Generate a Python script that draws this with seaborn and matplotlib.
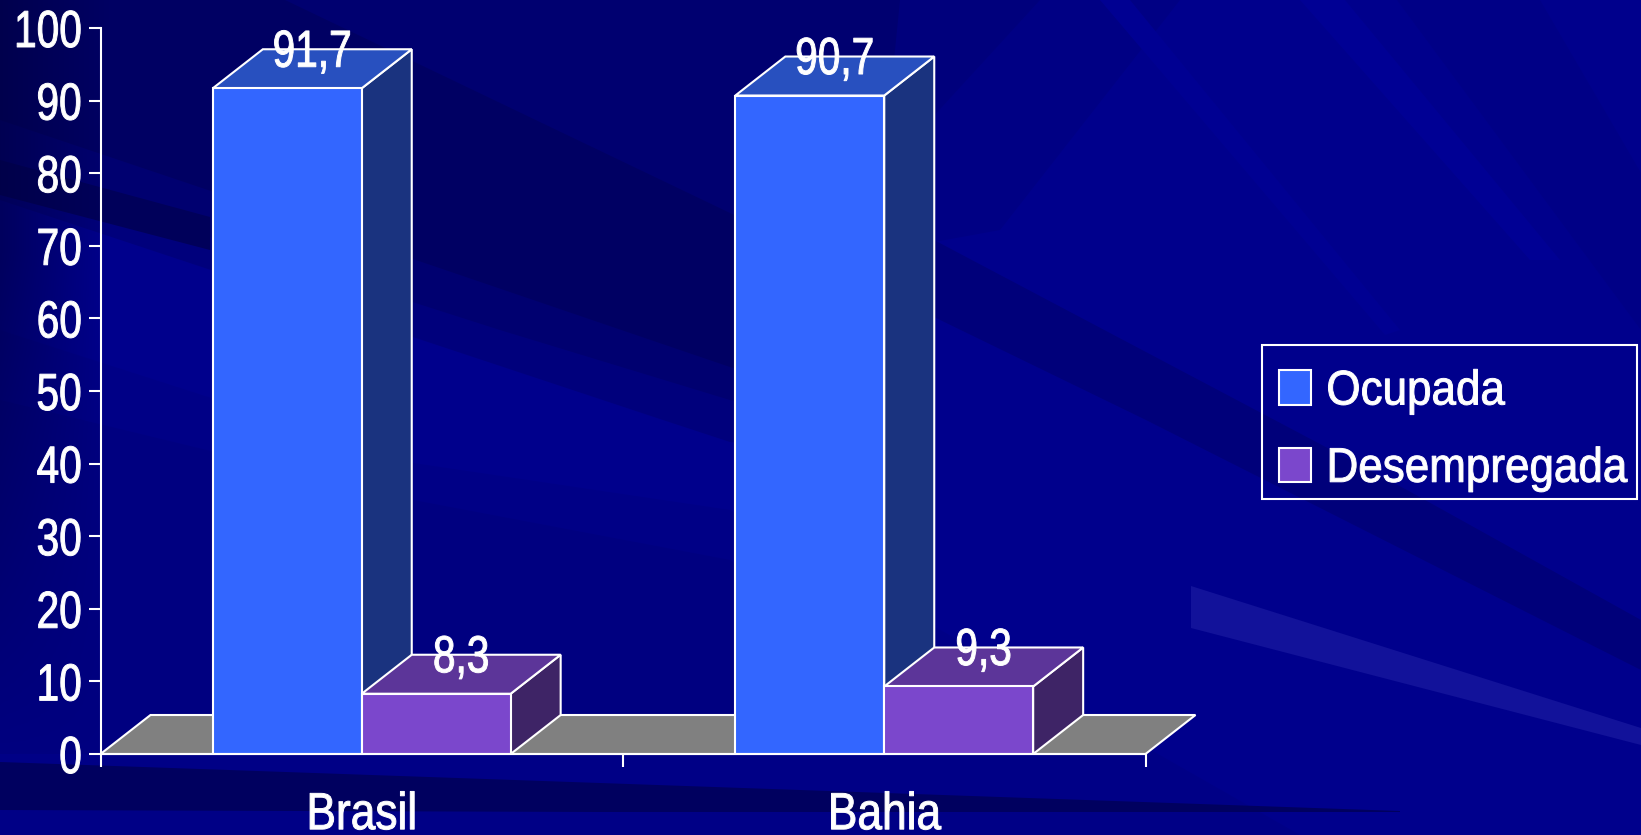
import matplotlib
matplotlib.use("Agg")
import matplotlib.pyplot as plt
from matplotlib.patches import Polygon, Rectangle
from matplotlib.patheffects import AbstractPathEffect
from matplotlib.transforms import Affine2D
import numpy as np
import pandas as pd
import seaborn as sns

categories = ["Brasil", "Bahia"]
series_names = ["Ocupada", "Desempregada"]
ocupada = [91.7, 90.7]
desempregada = [8.3, 9.3]
value_labels = {"Ocupada": ["91,7", "90,7"], "Desempregada": ["8,3", "9,3"]}
y_ticks = list(range(0, 101, 10))

FRONT = {"Ocupada": "#3366FF", "Desempregada": "#7B47CC"}
TOP = {"Ocupada": "#2850BF", "Desempregada": "#5C3599"}
SIDE = {"Ocupada": "#1A337F", "Desempregada": "#3E2466"}
WHITE = "#FFFFFF"
LW = 1.5

sns.set_style("white")
plt.rcParams["font.family"] = ["Liberation Sans", "DejaVu Sans"]


class Squeeze(AbstractPathEffect):
    """Narrow the glyphs horizontally (the reference uses a narrow face)."""

    def __init__(self, sx, anchor="center", shift=0, yshift=0, stroke=0.7):
        super().__init__()
        self.sx, self.anchor, self.shift, self.yshift, self.stroke = sx, anchor, shift, yshift, stroke

    def draw_path(self, renderer, gc, tpath, affine, rgbFace=None):
        e = tpath.get_extents()
        a = {"left": e.x0, "right": e.x1, "center": (e.x0 + e.x1) / 2}[self.anchor]
        t = (Affine2D().translate(-a, 0).scale(self.sx, 1).translate(a, 0) + affine
             + Affine2D().translate(self.shift, self.yshift))
        gc.set_linewidth(self.stroke)
        renderer.draw_path(gc, tpath, t, rgbFace)


W, H = 1641, 835
fig = plt.figure(figsize=(W / 100, H / 100), dpi=100)

# backdrop: dark blue with diagonal rays
bg = fig.add_axes([0, 0, 1, 1], zorder=-5)
bg.axis("off")
bg.add_patch(Rectangle((0, 0), W, H, fc="#00008C", ec="none", zorder=0))
bands = [
    ("#000086", [(0, 330), (413, 463), (730, 510), (1300, 835), (0, 835)]),
    ("#000080", [(0, 400), (413, 500), (730, 560), (1000, 754), (0, 754)]),
    ("#000084", [(800, 0), (1180, 0), (1000, 230), (890, 250)]),
    ("#00007C", [(0, 0), (1040, 0), (930, 120), (890, 458), (730, 442), (663, 420), (0, 200)]),
    ("#000070", [(0, 0), (900, 0), (890, 100), (890, 430), (730, 400), (500, 330), (0, 170)]),
    ("#000063", [(0, 0), (285, 0), (730, 213), (890, 290), (890, 420), (730, 367), (416, 260), (0, 120)]),
    ("#00005A", [(0, 160), (210, 217), (210, 250), (0, 195)]),
    ("#00007A", [(880, 210), (934, 240), (1407, 490), (1641, 620), (1641, 670), (1146, 420), (934, 317), (880, 292)]),
    ("#00005F", [(0, 762), (600, 783), (1400, 811), (1400, 812), (600, 812), (0, 810)]),
    ("#000086", [(1397, 0), (1540, 0), (1641, 173), (1641, 330)]),
    ("#000094", [(1300, 0), (1345, 0), (1560, 260), (1530, 260)]),
    ("#000092", [(1100, 0), (1130, 0), (1400, 330), (1385, 335)]),
    ("#12129A", [(1191, 586), (1641, 728), (1641, 745), (1191, 628)]),
]
for i, (c, p) in enumerate(bands):
    bg.add_patch(Polygon(p, closed=True, fc=c, ec="none", zorder=1 + i))
shade = np.zeros((128, 128, 4))
shade[..., 2] = 0.25
fx = np.linspace(0.6, 0, 128)[None, :]
fy = np.clip(np.linspace(1.5, 0, 128), 0, 1)[:, None]
shade[..., 3] = fx * fy
bg.imshow(shade, extent=(0, 110, 760, 0), aspect="auto", zorder=20)
bg.set_xlim(0, W); bg.set_ylim(H, 0)

# main axes
left, right, top, bottom = 100.5, 1145.5, 28.0, 754.0
ax = fig.add_axes([left / W, (H - bottom) / H, (right - left) / W, (bottom - top) / H], zorder=1)
ax.patch.set_alpha(0)

df = pd.DataFrame({
    "categoria": categories * 2,
    "serie": [series_names[0]] * 2 + [series_names[1]] * 2,
    "valor": ocupada + desempregada,
})
sns.barplot(data=df, x="categoria", y="valor", hue="serie", order=categories, hue_order=series_names,
            palette=FRONT, width=0.57, gap=0, dodge=True, saturation=1, edgecolor=WHITE, linewidth=LW,
            ax=ax, legend=True, zorder=5)
ax.set_xlim(-0.5, 1.5)
ax.set_ylim(0, 100)
ax.set_xlabel(""); ax.set_ylabel("")

dx = 50 / (right - left) * 2
dy = 39 / (bottom - top) * 100
kw = dict(closed=True, ec=WHITE, lw=LW, clip_on=False, joinstyle="miter")

# floor
ax.add_patch(Polygon([(-0.5, 0), (-0.5 + dx, dy), (1.5 + dx, dy), (1.5, 0)], fc="#808080", zorder=1, **kw))

FS = 37.5
for k, (name, cont) in enumerate(zip(series_names, ax.containers)):
    for j, bar in enumerate(cont):
        x0, w, h = bar.get_x(), bar.get_width(), bar.get_height()
        x1 = x0 + w
        z = 2 + k * 3
        bar.set_zorder(z + 2)
        ax.add_patch(Polygon([(x1, 0), (x1 + dx, dy), (x1 + dx, h + dy), (x1, h)], fc=SIDE[name], zorder=z, **kw))
        ax.add_patch(Polygon([(x0, h), (x0 + dx, h + dy), (x1 + dx, h + dy), (x1, h)], fc=TOP[name], zorder=z + 1, **kw))
        t = ax.text(x0 + w / 2 + dx / 2, h + dy, value_labels[name][j], color=WHITE, fontsize=FS,
                    ha="center", va="center_baseline", zorder=20, clip_on=False)
        t.set_path_effects([Squeeze(0.78, yshift=1.5)])

for s in ["top", "right"]:
    ax.spines[s].set_visible(False)
for s in ["left", "bottom"]:
    ax.spines[s].set_color(WHITE)
    ax.spines[s].set_linewidth(LW)
    ax.spines[s].set_zorder(15)

ax.set_yticks(y_ticks)
ax.tick_params(axis="y", colors=WHITE, length=8.5, width=LW, labelsize=FS, pad=-2.5, left=True)
ax.set_xticks(range(len(categories)), categories)
ax.tick_params(axis="x", which="major", colors=WHITE, length=0, labelsize=FS, pad=21, bottom=False)
ax.set_xticks([-0.5, 0.5, 1.5], minor=True)
ax.tick_params(axis="x", which="minor", colors=WHITE, length=9, width=LW, bottom=True)
for lab in ax.get_yticklabels():
    lab.set_path_effects([Squeeze(0.78, "right", shift=-10)])
for lab in ax.get_xticklabels():
    lab.set_path_effects([Squeeze(0.85, yshift=-8)])

handles, labels = ax.get_legend_handles_labels()
ax.get_legend().remove()
leg = fig.legend(handles, labels, loc="upper left", bbox_to_anchor=(1279 / W, 1 - 369.5 / H), frameon=False,
                 fontsize=35, labelcolor=WHITE, handlelength=0.66, handleheight=0.7, handletextpad=-0.04,
                 labelspacing=0.665, borderpad=0, borderaxespad=0)
for t in leg.get_texts():
    t.set_path_effects([Squeeze(0.905, "left", shift=17)])
leg.set_zorder(30)
fig.add_artist(Rectangle((1261.5 / W, 1 - 499 / H), (1637 - 1261.5) / W, (499 - 345) / H, transform=fig.transFigure,
                         fill=False, ec=WHITE, lw=LW, zorder=29))

fig.savefig("out.png", dpi=100)
